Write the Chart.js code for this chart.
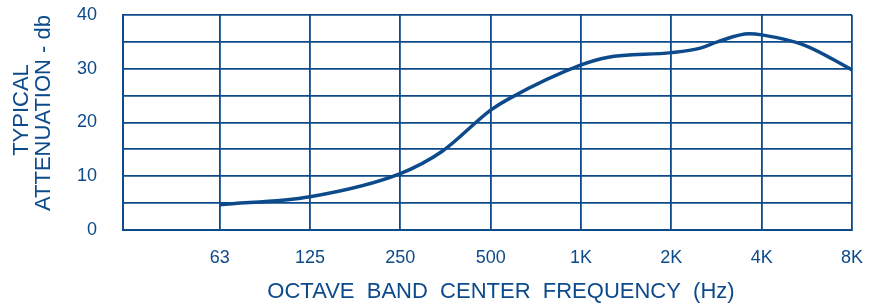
<!DOCTYPE html>
<html>
<head>
<meta charset="utf-8">
<script src="https://cdn.jsdelivr.net/npm/chart.js@4"></script>
<style>
  html, body { margin: 0; padding: 0; background: #fff; }
  canvas { display: block; }
</style>
</head>
<body>
<canvas id="attenChart" width="873" height="305"></canvas>
<script>
// octave band labels, one per grid column (index 0 = 63 Hz)
const bandLabels = ['63', '125', '250', '500', '1K', '2K', '4K', '8K'];

// curve: octave index and attenuation (db)
const octaveIdx = [0, 1, 2, 2.46, 3, 3.2, 4, 4.29, 5, 5.31, 5.51, 5.86, 6, 6.47, 7];
const attenDb   = [4.7, 6.2, 10.5, 14.6, 22.3, 24.4, 30.7, 32.1, 33.0, 33.8, 35.0, 36.5, 36.3, 34.4, 29.8];

const ink = '#0c4a8b';
const fontFam = "'Liberation Sans', Arial, sans-serif";

// axis titles drawn by hand so they sit where the original has them
const titlesPlugin = {
    id: 'titles',
    afterDraw(chart) {
        const ctx = chart.ctx;
        ctx.save();
        ctx.fillStyle = ink;
        ctx.font = '22px ' + fontFam;
        ctx.textAlign = 'center';
        ctx.textBaseline = 'middle';
        ctx.fillText('OCTAVE  BAND  CENTER  FREQUENCY  (Hz)', 501, 292);

        ctx.translate(22, 110);
        ctx.rotate(-Math.PI / 2);
        ctx.fillText('TYPICAL', 0, 0);
        ctx.restore();

        ctx.save();
        ctx.fillStyle = ink;
        ctx.font = '22px ' + fontFam;
        ctx.textAlign = 'center';
        ctx.textBaseline = 'middle';
        ctx.translate(44, 113);
        ctx.rotate(-Math.PI / 2);
        ctx.fillText('ATTENUATION - db', 0, 0);
        ctx.restore();
    }
};

const ctx = document.getElementById('attenChart').getContext('2d');
new Chart(ctx, {
    type: 'line',
    data: {
        datasets: [{
            data: octaveIdx.map((x, i) => ({ x: x, y: attenDb[i] })),
            borderColor: ink,
            borderWidth: 3.5,
            pointRadius: 0,
            fill: false,
            cubicInterpolationMode: 'monotone'
        }]
    },
    options: {
        responsive: false,
        animation: false,
        devicePixelRatio: 1,
        layout: { padding: { top: 15, right: 21, left: 0, bottom: 0 } },
        plugins: {
            legend: { display: false },
            tooltip: { enabled: false }
        },
        scales: {
            x: {
                type: 'linear',
                min: -1.07,
                max: 7,
                afterBuildTicks: (axis) => {
                    axis.ticks = bandLabels.map((l, i) => ({ value: i }));
                },
                afterFit: (axis) => {
                    axis.height = 75;
                    axis.paddingLeft = 0;
                    axis.paddingRight = 0;
                },
                grid: { color: ink, lineWidth: 1.8, drawTicks: false },
                border: { color: ink, width: 2 },
                ticks: {
                    color: ink,
                    font: { family: fontFam, size: 18 },
                    padding: 17,
                    maxRotation: 0,
                    callback: (v) => bandLabels[v] ?? ''
                }
            },
            y: {
                min: 0,
                max: 40,
                afterFit: (axis) => {
                    axis.width = 123;
                    axis.paddingTop = 0;
                    axis.paddingBottom = 0;
                },
                grid: { color: ink, lineWidth: 1.8, drawTicks: false },
                border: { color: ink, width: 2 },
                ticks: {
                    stepSize: 5,
                    autoSkip: false,
                    color: ink,
                    font: { family: fontFam, size: 18 },
                    padding: 26,
                    callback: (v) => (v % 10 === 0 ? v : '')
                }
            }
        }
    },
    plugins: [titlesPlugin]
});
</script>
</body>
</html>
